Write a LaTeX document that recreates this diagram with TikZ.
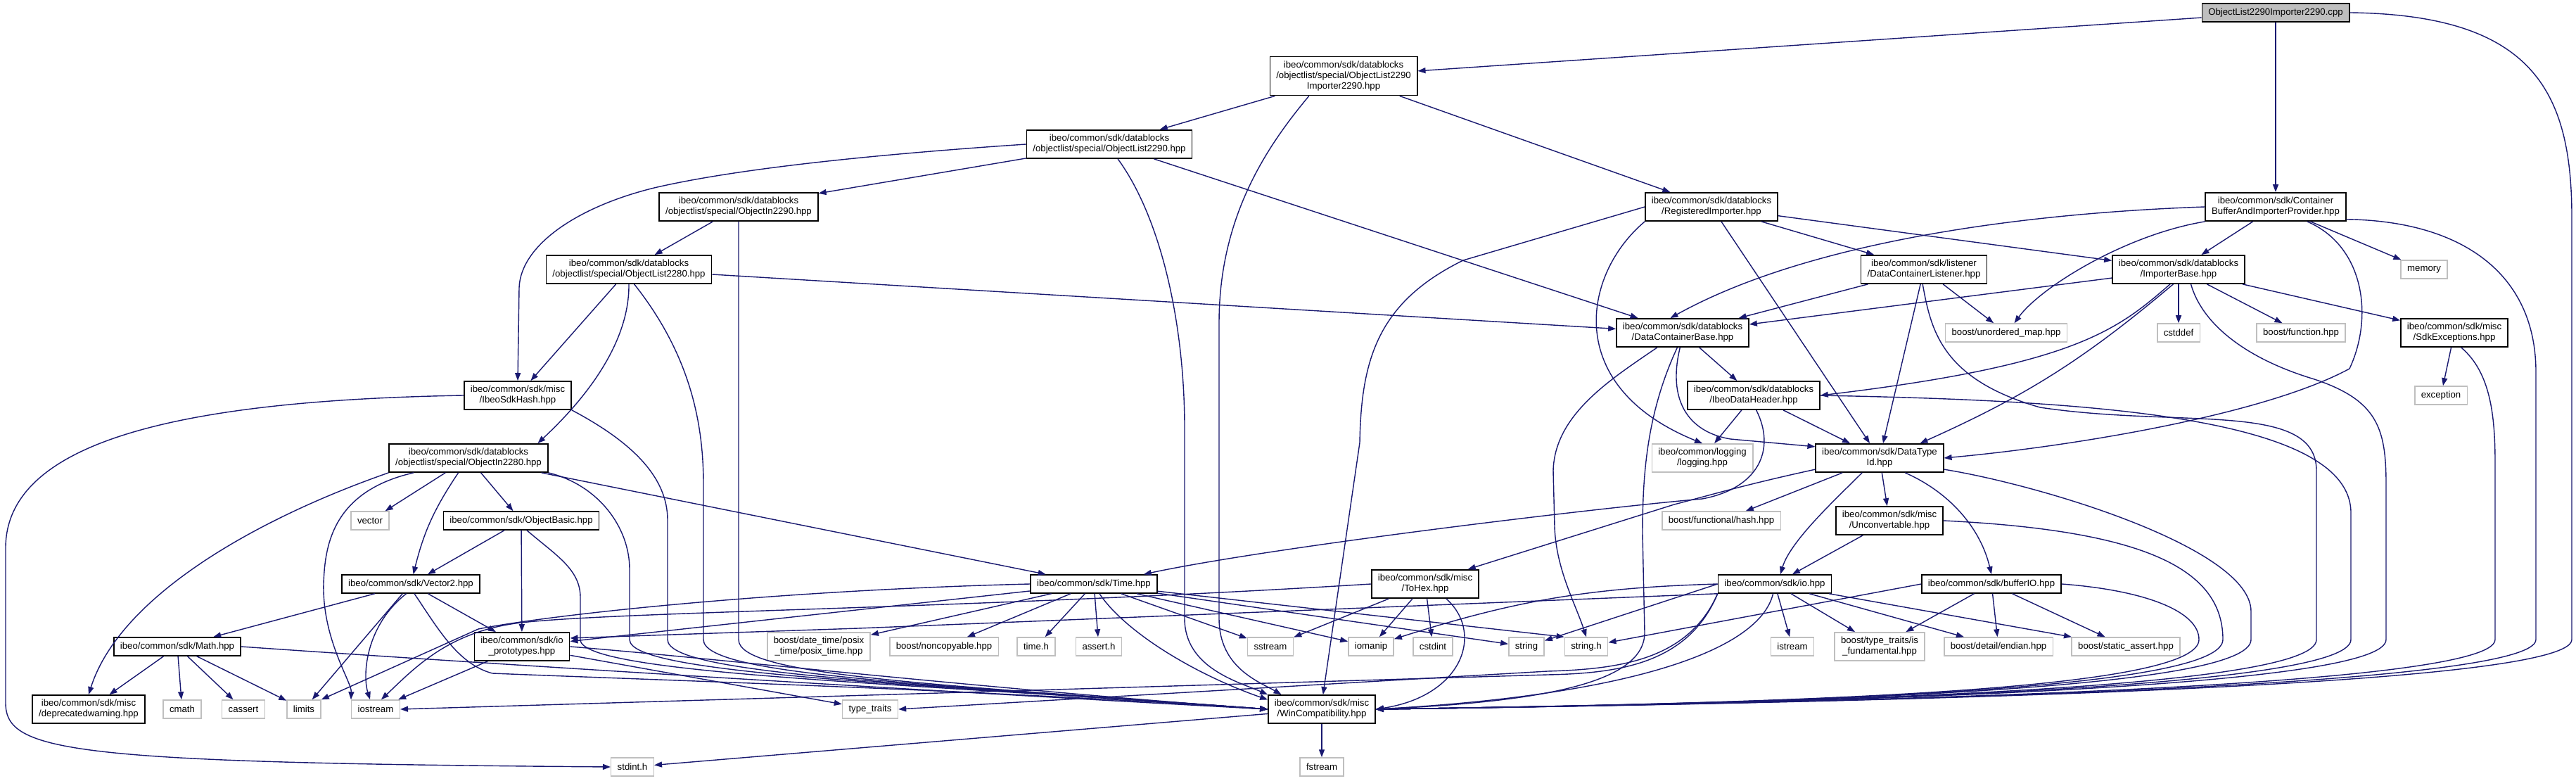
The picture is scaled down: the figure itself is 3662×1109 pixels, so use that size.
\documentclass[tikz,border=0pt]{standalone}
\usepackage{fontspec}
\setmainfont{Liberation Sans}
\usetikzlibrary{arrows.meta}
\definecolor{incblue}{RGB}{25,25,112}
\definecolor{sysgray}{RGB}{191,191,191}

\begin{document}
\begin{tikzpicture}[x=1pt, y=1pt,
  hdr/.style={draw=black, line width=1.5pt, fill=white, align=center,
    inner xsep=9pt, inner ysep=6.5pt, minimum height=26pt,
    font=\fontsize{13.2}{15}\selectfont},
  sys/.style={hdr, draw=sysgray},
  src/.style={hdr, fill=sysgray},
  inc/.style={draw=incblue, line width=1.4pt,
    -{Triangle[length=11pt, width=8pt]}}]

\fill[white] (0,0) rectangle (3662,1109);
\useasboundingbox (0,0) rectangle (3662,1109);

% rows, top to bottom
\node[src] (root) at (3235,1091) {ObjectList2290Importer2290.cpp};

\node[hdr] (oli) at (1910,1001) {ibeo/common/sdk/datablocks\\/objectlist/special/ObjectList2290\\Importer2290.hpp};

\node[hdr] (ol2290) at (1577,904) {ibeo/common/sdk/datablocks\\/objectlist/special/ObjectList2290.hpp};

\node[hdr] (oin2290) at (1050,815) {ibeo/common/sdk/datablocks\\/objectlist/special/ObjectIn2290.hpp};
\node[hdr] (regimp) at (2433,815) {ibeo/common/sdk/datablocks\\/RegisteredImporter.hpp};
\node[hdr] (cbuf) at (3235,815) {ibeo/common/sdk/Container\\BufferAndImporterProvider.hpp};

\node[hdr] (ol2280) at (894,726) {ibeo/common/sdk/datablocks\\/objectlist/special/ObjectList2280.hpp};
\node[hdr] (dcl) at (2735,726) {ibeo/common/sdk/listener\\/DataContainerListener.hpp};
\node[hdr] (impbase) at (3097,726) {ibeo/common/sdk/datablocks\\/ImporterBase.hpp};
\node[sys] (memory) at (3446,726) {memory};

\node[hdr] (dcb) at (2392,636) {ibeo/common/sdk/datablocks\\/DataContainerBase.hpp};
\node[sys] (unordered) at (2852,636) {boost/unordered\_map.hpp};
\node[sys] (cstddef) at (3097,636) {cstddef};
\node[sys] (bfunction) at (3271,636) {boost/function.hpp};
\node[hdr] (sdkexc) at (3489,636) {ibeo/common/sdk/misc\\/SdkExceptions.hpp};

\node[hdr] (hash) at (736,547) {ibeo/common/sdk/misc\\/IbeoSdkHash.hpp};
\node[hdr] (idh) at (2493,547) {ibeo/common/sdk/datablocks\\/IbeoDataHeader.hpp};
\node[sys] (exception) at (3470,547) {exception};

\node[hdr] (oin2280) at (666,458) {ibeo/common/sdk/datablocks\\/objectlist/special/ObjectIn2280.hpp};
\node[sys] (logging) at (2420,458) {ibeo/common/logging\\/logging.hpp};
\node[hdr] (dtid) at (2672,458) {ibeo/common/sdk/DataType\\Id.hpp};

\node[sys] (vector) at (526,369) {vector};
\node[hdr] (objbasic) at (741,369) {ibeo/common/sdk/ObjectBasic.hpp};
\node[sys] (bfhash) at (2447,369) {boost/functional/hash.hpp};
\node[hdr] (unconv) at (2686,369) {ibeo/common/sdk/misc\\/Unconvertable.hpp};

\node[hdr] (vector2) at (584,279) {ibeo/common/sdk/Vector2.hpp};
\node[hdr] (time) at (1555,279) {ibeo/common/sdk/Time.hpp};
\node[hdr] (tohex) at (2026,279) {ibeo/common/sdk/misc\\/ToHex.hpp};
\node[hdr] (io) at (2523,279) {ibeo/common/sdk/io.hpp};
\node[hdr] (bufio) at (2831,279) {ibeo/common/sdk/bufferIO.hpp};

\node[hdr] (math) at (252,190) {ibeo/common/sdk/Math.hpp};
\node[hdr] (ioproto) at (742,190) {ibeo/common/sdk/io\\\_prototypes.hpp};
\node[sys] (posix) at (1164,190) {boost/date\_time/posix\\\_time/posix\_time.hpp};
\node[sys] (noncopy) at (1342,190) {boost/noncopyable.hpp};
\node[sys] (timeh) at (1473,190) {time.h};
\node[sys] (asserth) at (1562,190) {assert.h};
\node[sys] (sstream) at (1806,190) {sstream};
\node[sys] (iomanip) at (1949,190) {iomanip};
\node[sys] (cstdint) at (2037,190) {cstdint};
\node[sys] (string) at (2170,190) {string};
\node[sys] (stringh) at (2255,190) {string.h};
\node[sys] (istream) at (2548,190) {istream};
\node[sys] (isfund) at (2672,190) {boost/type\_traits/is\\\_fundamental.hpp};
\node[sys] (endian) at (2841,190) {boost/detail/endian.hpp};
\node[sys] (sassert) at (3022,190) {boost/static\_assert.hpp};

\node[hdr] (depr) at (126,101) {ibeo/common/sdk/misc\\/deprecatedwarning.hpp};
\node[sys] (cmath) at (259,101) {cmath};
\node[sys] (cassert) at (346,101) {cassert};
\node[sys] (limits) at (432,101) {limits};
\node[sys] (iostream) at (534,101) {iostream};
\node[sys] (typetraits) at (1237,101) {type\_traits};
\node[hdr] (win) at (1879,101) {ibeo/common/sdk/misc\\/WinCompatibility.hpp};

\node[sys] (stdinth) at (899,19) {stdint.h};
\node[sys] (fstream) at (1879,19) {fstream};

% short includes
\foreach \a/\b in {root/oli, root/cbuf, oli/ol2290, oli/regimp,
  ol2290/oin2290, ol2290/dcb, oin2290/ol2280, ol2280/hash, ol2280/dcb,
  regimp/dcl, regimp/dtid, regimp/impbase, cbuf/impbase, cbuf/memory,
  dcl/dcb, dcl/dtid, dcl/unordered, impbase/dcb, impbase/cstddef,
  impbase/bfunction, impbase/sdkexc, sdkexc/exception, dcb/idh,
  idh/logging, idh/dtid, dtid/bfhash, dtid/unconv, unconv/io,
  oin2280/vector, oin2280/objbasic, oin2280/time, objbasic/vector2,
  objbasic/ioproto, vector2/math, vector2/limits, vector2/ioproto,
  math/depr, math/cmath, math/cassert, math/limits, ioproto/iostream,
  ioproto/typetraits, time/ioproto, time/posix, time/noncopy, time/timeh,
  time/asserth, time/sstream, time/iomanip, time/string,
  tohex/sstream, tohex/iomanip, tohex/cstdint, io/istream, io/isfund,
  io/endian, io/sassert, bufio/isfund, bufio/endian, bufio/sassert,
  win/fstream, win/stdinth}
  \draw[inc] (\a) -- (\b);

\draw[inc] (io.west) to[bend right=8] (iomanip);
\draw[inc] (io.west) -- (string);
\draw[inc] (bufio.west) -- (stringh);
\draw[inc] (time) -- (stringh.north west);
\draw[inc] (oin2280) to[bend right=10] (vector2);
\draw[inc] (impbase.-110) to[bend left=8] (dtid.20);
\draw[inc] (io.south west) -- (1220,216) -- (ioproto.10);
\draw[inc] (io.south west) .. controls (2400,165) and (2300,152) .. (2200,150) -- (iostream.east);
\draw[inc] (io.south west) .. controls (2400,170) and (2300,158) .. (2200,155) -- (typetraits.east);

% upper part
\draw[inc] (ol2290.west) .. controls (1250,890) and (1050,870) .. (930,842)
  .. controls (820,815) and (740,760) .. (738,700) -- (hash.north);
\draw[inc] (ol2280.south) .. controls (895,620) and (830,540) .. (oin2280.12);
\draw[inc] (hash.west) .. controls (250,540) and (8,480) .. (8,330) -- (8,110)
  .. controls (8,40) and (100,25) .. (stdinth.west);
\draw[inc] (cbuf.west) .. controls (2850,805) and (2560,760) .. (dcb.130);
\draw[inc] (cbuf.south west) .. controls (3020,775) and (2900,700) .. (unordered.50);
\draw[inc] (cbuf.-25) .. controls (3360,760) and (3375,660) .. (3340,585)
  .. controls (3220,520) and (2950,475) .. (dtid.east);
\draw[inc] (regimp.south west) .. controls (2250,720) and (2220,560) .. (logging.north);
\draw[inc] (impbase.-120) .. controls (3010,640) and (2950,590) .. (idh.east);
\draw[inc] (dcb.-100) .. controls (2370,540) and (2400,495) .. (2460,485) -- (dtid.170);
\draw[inc] (dcb.-150) .. controls (2290,570) and (2210,520) .. (2208,440) -- (2210,360)
  .. controls (2212,300) and (2240,250) .. (stringh.north);
\draw[inc] (idh.-80) .. controls (2525,470) and (2500,415) .. (2420,400)
  .. controls (2250,385) and (1800,330) .. (time.11);
\draw[inc] (dtid.-170) .. controls (2480,420) and (2430,405) .. (2380,392) -- (tohex.19);
\draw[inc] (dtid.-140) .. controls (2610,400) and (2545,340) .. (io.60);
\draw[inc] (dtid.-30) .. controls (2770,410) and (2815,360) .. (bufio.north);

% lower left part
\draw[inc] (oin2280.south west) .. controls (360,370) and (170,260) .. (depr.north);
\draw[inc] (oin2280.-165) .. controls (470,410) and (462,330) .. (460,280)
  .. controls (458,200) and (500,140) .. (iostream.north west);
\draw[inc] (vector2.-115) .. controls (520,220) and (515,150) .. (iostream.120);
\draw[inc] (time.west) .. controls (1100,270) and (780,235) .. (680,215) -- (limits.north east);
\draw[inc] (tohex.west) .. controls (1400,245) and (900,240) .. (750,225)
  .. controls (640,215) and (590,160) .. (iostream.60);

% into WinCompatibility from the left and the top
\draw[inc] (oin2290.south) -- (1050,200) .. controls (1050,150) and (1300,138) .. (win.west);
\draw[inc] (ol2280.-70) .. controls (985,600) and (1000,500) .. (1000,420) -- (1000,200)
  .. controls (1000,150) and (1300,138) .. (win.west);
\draw[inc] (hash.south east) .. controls (900,480) and (949,430) .. (949,370) -- (949,200)
  .. controls (949,150) and (1300,138) .. (win.west);
\draw[inc] (oin2280.south east) .. controls (850,420) and (895,360) .. (895,300) -- (895,200)
  .. controls (895,150) and (1300,138) .. (win.west);
\draw[inc] (objbasic.-60) .. controls (790,320) and (825,300) .. (825,260) -- (825,200)
  .. controls (825,150) and (1300,138) .. (win.west);
\draw[inc] (vector2.-70) .. controls (620,220) and (650,165) .. (700,152)
  .. controls (1000,140) and (1400,128) .. (win.west);
\draw[inc] (math.east) .. controls (700,165) and (1300,128) .. (win.west);
\draw[inc] (ioproto.east) .. controls (1000,175) and (1400,130) .. (win.west);
\draw[inc] (oli.-150) .. controls (1800,900) and (1733,800) .. (1733,650) -- (1733,230)
  .. controls (1733,160) and (1790,140) .. (win.160);
\draw[inc] (ol2290.-60) .. controls (1650,800) and (1684,650) .. (1684,500) -- (1684,230)
  .. controls (1684,160) and (1760,140) .. (win.north west);
\draw[inc] (time.-60) .. controls (1600,210) and (1700,150) .. (win.170);
\draw[inc] (regimp.west) -- (2080,739) .. controls (1960,680) and (1935,600) .. (1933,480)
  -- (win.85);

% into WinCompatibility from the right
\draw[inc] (tohex.-35) .. controls (2110,210) and (2080,120) .. (win.east);
\draw[inc] (io.-100) .. controls (2500,180) and (2300,120) .. (win.east);
\draw[inc] (dcb.-110) .. controls (2340,520) and (2335,430) .. (2335,350) -- (2338,210)
  .. controls (2338,140) and (2200,112) .. (win.east);
\draw[inc] (bufio.east) .. controls (3050,270) and (3126,240) .. (3126,200)
  .. controls (3126,130) and (2600,110) .. (win.east);
\draw[inc] (unconv.east) .. controls (3050,355) and (3160,300) .. (3160,200)
  .. controls (3160,130) and (2600,110) .. (win.east);
\draw[inc] (dtid.-10) .. controls (2900,420) and (3200,330) .. (3200,240) -- (3200,200)
  .. controls (3200,130) and (2600,110) .. (win.east);
\draw[inc] (dcl.-95) .. controls (2745,640) and (2760,570) .. (2900,530)
  .. controls (3100,500) and (3293,540) .. (3293,440) -- (3293,200)
  .. controls (3293,130) and (2600,110) .. (win.east);
\draw[inc] (idh.east) .. controls (2950,540) and (3342,520) .. (3342,380) -- (3342,200)
  .. controls (3342,130) and (2600,110) .. (win.east);
\draw[inc] (impbase.-50) .. controls (3130,650) and (3190,600) .. (3290,570)
  .. controls (3380,540) and (3392,500) .. (3392,420) -- (3392,200)
  .. controls (3392,130) and (2600,110) .. (win.east);
\draw[inc] (sdkexc.-65) .. controls (3540,580) and (3547,520) .. (3547,450) -- (3547,200)
  .. controls (3547,130) and (2600,110) .. (win.east);
\draw[inc] (cbuf.-10) .. controls (3500,795) and (3605,720) .. (3605,580) -- (3605,200)
  .. controls (3605,130) and (2600,110) .. (win.east);
\draw[inc] (root.east) .. controls (3600,1088) and (3656,980) .. (3656,800) -- (3656,200)
  .. controls (3656,130) and (2600,110) .. (win.east);
\end{tikzpicture}
\end{document}
